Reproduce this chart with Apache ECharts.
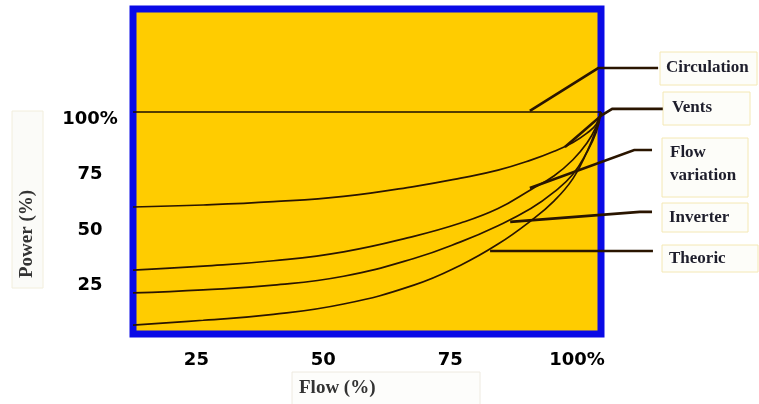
<!DOCTYPE html>
<html>
<head>
<meta charset="utf-8">
<script src="https://cdn.jsdelivr.net/npm/echarts@6/dist/echarts.min.js"></script>
<style>
  html, body { margin: 0; padding: 0; background: #ffffff; }
  #chart { width: 759px; height: 404px; }
</style>
</head>
<body>
<div id="chart"></div>
<script>
// Fan power versus flow for different regulation methods: [flow %, power %]
const circulation = [[0, 100], [100, 100]];
const vents = [[0, 57.2], [15, 58.1], [30, 59.6], [45, 62], [60, 66.4], [70, 70.2], [78, 73.8], [85, 78.3], [90, 82.3], [94, 86.3], [97, 90.5], [99, 94.5], [100, 100]];
const flowVariation = [[0, 28.8], [15, 30.6], [30, 33], [45, 37], [60, 44], [70, 50], [78, 56.5], [85, 65], [90, 71.3], [94, 78.5], [97, 86], [99, 93.5], [100, 100]];
const inverter = [[0, 18.5], [15, 19.9], [30, 22], [45, 26], [60, 34], [70, 41.5], [78, 48.8], [85, 56.5], [90, 64], [94, 72], [97, 82], [99, 91], [100, 100]];
const theoric = [[0, 4], [15, 6.2], [30, 8.8], [45, 13.5], [60, 22], [70, 31], [78, 40.5], [85, 51], [90, 60], [94, 70], [97, 82], [99, 92.5], [100, 100]];

// Callout names and their leader lines (flow %, power %), arrow at the last point
const calloutNames = ['Circulation', 'Vents', 'Flow\nvariation', 'Inverter', 'Theoric'];
const calloutLeaders = [
  [[112.2, 119.8], [99.4, 119.8], [84.8, 100.5]],
  [[113.2, 101.4], [102.4, 101.4], [100.2, 98.6], [92.3, 84.2]],
  [[110.9, 82.9], [107.1, 82.9], [84.8, 65.8]],
  [[110.9, 55.0], [108.3, 55.0], [80.6, 50.5]],
  [[111.1, 37.4], [76.3, 37.4]]
];

// Tick labels
const flowTicks = [25, 50, 75, 100];
const flowTickLabels = ['25', '50', '75', '100%'];
const powerTicks = [25, 50, 75, 100];
const powerTickLabels = ['25', '50', '75', '100%'];

const axisTitleX = 'Flow (%)';
const axisTitleY = 'Power (%)';

const chart = echarts.init(document.getElementById('chart'), null, { renderer: 'canvas' });

const curveColor = '#2a1500';
const tickFont = { fontFamily: 'DejaVu Sans', fontWeight: 'bold', fontSize: 18, color: '#000000' };
const boxFont = 'bold 17px "Liberation Serif"';
const titleFont = 'bold 19px "Liberation Serif"';

function curve(name, data, color) {
  return {
    name: name,
    type: 'line',
    xAxisIndex: 0,
    yAxisIndex: 0,
    data: data,
    showSymbol: false,
    smooth: 0.45,
    lineStyle: { color: color, width: 1.7 },
    z: 3
  };
}

// Callout boxes placed to the right of the plot
const boxes = [
  { x: 660, y: 52, w: 97, h: 33, tx: 666, ty: 68 },
  { x: 663, y: 92, w: 87, h: 33, tx: 672, ty: 108 },
  { x: 662, y: 138, w: 86, h: 59, tx: 670, ty: 164 },
  { x: 662, y: 203, w: 86, h: 29, tx: 669, ty: 218 },
  { x: 662, y: 245, w: 96, h: 27, tx: 669, ty: 259 }
];

const graphics = [];
boxes.forEach(function (b, i) {
  graphics.push({
    type: 'rect',
    shape: { x: b.x, y: b.y, width: b.w, height: b.h },
    style: { fill: '#fdfdf9', stroke: '#f4e8b4', lineWidth: 1 },
    z: 1
  });
  graphics.push({
    type: 'text',
    x: b.tx,
    y: b.ty,
    style: {
      text: calloutNames[i],
      font: boxFont,
      fill: '#1e1e2c',
      align: 'left',
      verticalAlign: 'middle',
      lineHeight: 23
    },
    z: 2
  });
});

// Axis title boxes
graphics.push({
  type: 'rect',
  shape: { x: 12, y: 111, width: 31, height: 177 },
  style: { fill: '#fbfbf8', stroke: '#f2eedc', lineWidth: 1 },
  z: 1
});
graphics.push({
  type: 'text',
  x: 27,
  y: 234,
  rotation: Math.PI / 2,
  style: { text: axisTitleY, font: titleFont, fill: '#333333', align: 'center', verticalAlign: 'middle' },
  z: 2
});
graphics.push({
  type: 'rect',
  shape: { x: 292, y: 372, width: 188, height: 40 },
  style: { fill: '#fdfdfb', stroke: '#eeeae0', lineWidth: 1 },
  z: 1
});
graphics.push({
  type: 'text',
  x: 299,
  y: 388,
  style: { text: axisTitleX, font: titleFont, fill: '#333333', align: 'left', verticalAlign: 'middle' },
  z: 2
});

const option = {
  animation: false,
  backgroundColor: '#ffffff',
  grid: {
    left: 133,
    top: 9,
    right: 158,
    bottom: 70,
    show: true,
    backgroundColor: '#ffcc00',
    borderColor: '#0a0ae6',
    borderWidth: 7
  },
  xAxis: [
    {
      type: 'value',
      min: 0,
      max: 100,
      show: false
    },
    {
      type: 'value',
      min: 12.51,
      max: 104.71,
      position: 'bottom',
      axisLine: { show: false },
      axisTick: { show: false },
      splitLine: { show: false },
      axisLabel: Object.assign({
        customValues: flowTicks,
        margin: 17,
        formatter: function (v) {
          const i = flowTicks.indexOf(v);
          return i >= 0 ? flowTickLabels[i] : '';
        }
      }, tickFont)
    }
  ],
  yAxis: {
    type: 'value',
    min: 0,
    max: 146.4,
    axisLine: { show: false },
    axisTick: { show: false },
    splitLine: { show: false },
    axisLabel: Object.assign({
      customValues: powerTicks,
      margin: 43,
      align: 'center',
      verticalAlign: 'top',
      lineHeight: 14,
      formatter: function (v) {
        const i = powerTicks.indexOf(v);
        return i >= 0 ? powerTickLabels[i] : '';
      }
    }, tickFont)
  },
  graphic: graphics,
  series: [
    curve('Circulation', circulation, '#1a0e00'),
    curve('Vents', vents, curveColor),
    curve('Flow variation', flowVariation, curveColor),
    curve('Inverter', inverter, curveColor),
    curve('Theoric', theoric, curveColor),
    {
      name: 'callouts',
      type: 'lines',
      coordinateSystem: 'cartesian2d',
      xAxisIndex: 0,
      yAxisIndex: 0,
      polyline: true,
      clip: false,
      symbol: ['none', 'arrow'],
      symbolSize: 11,
      lineStyle: { color: curveColor, width: 2.6, opacity: 1, curveness: 0 },
      data: calloutLeaders.map(function (c, i) {
        return { name: calloutNames[i], coords: c };
      }),
      z: 5
    }
  ]
};

chart.setOption(option);
</script>
</body>
</html>
